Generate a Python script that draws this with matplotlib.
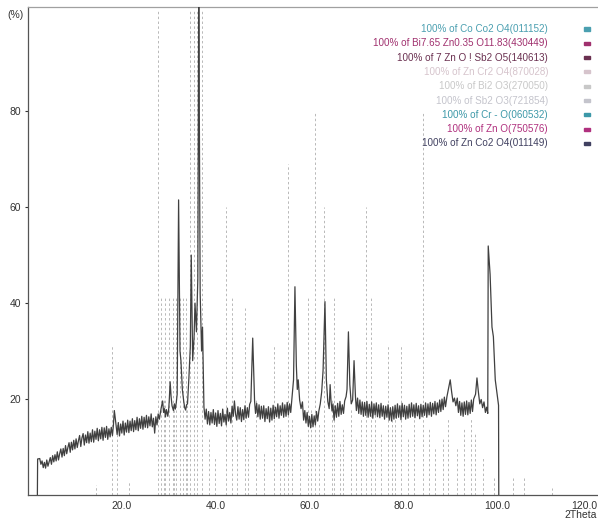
import numpy as np
import matplotlib
matplotlib.use("Agg")
import matplotlib.pyplot as plt
from matplotlib.transforms import ScaledTranslation

plt.rcParams['font.family'] = ['Liberation Sans', 'DejaVu Sans']

# 测得的衍射谱 (2Theta, %)，按区段记录
seg_low = [
    (2.0, 0.0), (2.05, 7.5), (2.5, 7.6), (2.75, 6.4), (3.0, 7.1), (3.25, 5.7), (3.5, 6.8),
    (3.75, 5.6), (4.0, 7.3), (4.25, 6.0), (4.5, 6.9), (4.75, 7.8), (5.0, 6.4), (5.25, 8.2),
    (5.5, 6.9), (5.75, 8.4), (6.0, 7.1), (6.25, 9.0), (6.5, 7.3), (6.75, 8.6), (7.0, 9.6),
    (7.25, 7.9), (7.5, 9.7), (7.75, 8.2), (8.0, 10.3), (8.25, 8.6), (8.5, 9.9), (8.75, 10.9),
    (9.0, 8.9), (9.25, 11.0), (9.5, 9.4), (9.75, 11.4), (10.0, 9.6), (10.25, 11.7),
    (10.5, 9.9), (10.75, 11.3), (11.0, 12.4), (11.25, 10.1), (11.5, 11.9), (11.75, 12.8),
    (12.0, 10.4), (12.25, 12.5), (12.5, 10.9), (12.75, 13.2), (13.0, 10.8), (13.25, 12.9),
    (13.5, 11.1), (13.75, 13.6), (14.0, 11.0), (14.25, 13.3), (14.5, 11.6), (14.75, 13.9),
    (15.0, 11.3), (15.25, 13.6), (15.5, 11.7), (15.75, 14.1), (16.0, 11.4), (16.25, 14.0),
    (16.5, 12.0), (16.75, 14.3), (17.0, 11.6), (17.25, 13.8), (17.5, 12.1), (17.75, 14.1),
    (18.0, 12.4), (18.2, 14.5), (18.4, 17.6), (18.6, 16.0), (18.8, 14.2), (19.0, 12.6),
    (19.25, 15.1), (19.5, 12.3), (19.75, 14.8), (20.0, 12.9), (20.25, 15.4), (20.5, 12.5),
    (20.75, 15.0), (21.0, 13.1), (21.25, 15.6), (21.5, 13.0), (21.75, 15.4), (22.0, 13.4),
    (22.25, 15.9), (22.5, 13.2), (22.75, 15.5), (23.0, 13.6), (23.25, 16.2), (23.5, 13.4),
    (23.75, 15.9), (24.0, 13.9), (24.25, 16.4), (24.5, 13.7), (24.75, 16.2), (25.0, 14.1),
    (25.25, 16.6), (25.5, 14.0), (25.75, 16.3), (26.0, 14.4), (26.25, 16.9), (26.5, 14.2),
    (26.75, 16.0), (27.0, 12.9), (27.25, 16.3), (27.5, 14.6), (27.75, 16.9),
]
seg_main = [
    (28.0, 15.8), (28.2, 17.0), (28.4, 18.2), (28.7, 19.6), (28.9, 17.2), (29.1, 18.0),
    (29.3, 16.3), (29.5, 17.8), (29.8, 16.4), (30.0, 18.0), (30.1, 19.5), (30.3, 23.6),
    (30.5, 20.5), (30.7, 18.6), (31.0, 17.6), (31.2, 19.0), (31.4, 17.9), (31.6, 19.2),
    (31.8, 21.0), (32.1, 61.5), (32.4, 30.0), (32.6, 28.0), (32.9, 22.0), (33.2, 19.5),
    (33.4, 18.2), (33.6, 17.7), (33.8, 18.8), (34.0, 19.0), (34.3, 24.5), (34.6, 31.0),
    (34.8, 50.0), (35.1, 28.0), (35.4, 33.0), (35.6, 40.0), (35.9, 34.0), (36.2, 45.0),
    (36.4, 104.0), (36.7, 42.0), (37.0, 30.0), (37.2, 35.0), (37.5, 18.4),
]
seg_mid = [
    (37.75, 15.8), (38.0, 17.9), (38.25, 14.8), (38.5, 17.4), (38.75, 14.6), (39.0, 17.2),
    (39.25, 15.0), (39.5, 17.8), (39.75, 14.7), (40.0, 17.1), (40.25, 14.3), (40.5, 17.6),
    (40.75, 14.9), (41.0, 17.0), (41.25, 14.4), (41.5, 17.9), (41.75, 15.2), (42.0, 16.8),
    (42.25, 14.6), (42.5, 18.1), (42.75, 15.4), (43.0, 17.2), (43.25, 15.0), (43.5, 18.5),
    (43.75, 16.4), (44.0, 19.6), (44.25, 16.8), (44.5, 15.6), (44.75, 18.4), (45.0, 15.8),
    (45.25, 18.2), (45.5, 15.3), (45.75, 17.8), (46.0, 15.7), (46.25, 18.6), (46.5, 16.0),
    (46.75, 18.2), (47.0, 16.2), (47.25, 18.9), (47.5, 19.5), (47.9, 32.7), (48.3, 19.5),
    (48.5, 17.0), (48.75, 19.1), (49.0, 16.3), (49.25, 18.8), (49.5, 15.8), (49.75, 18.5),
    (50.0, 16.0), (50.25, 18.6), (50.5, 15.3), (50.75, 18.0), (51.0, 15.9), (51.25, 18.4),
    (51.5, 15.2), (51.75, 18.1), (52.0, 15.6), (52.25, 18.7), (52.5, 15.9), (52.75, 18.3),
    (53.0, 16.3), (53.25, 19.0), (53.5, 16.0), (53.75, 18.6), (54.0, 16.6), (54.25, 19.2),
    (54.5, 16.2), (54.75, 18.8), (55.0, 16.4), (55.25, 19.3), (55.5, 16.7), (55.75, 19.0),
    (56.0, 17.2), (56.2, 19.5), (56.6, 24.0), (56.9, 43.4), (57.2, 27.0), (57.4, 22.0),
    (57.6, 24.0), (57.9, 19.8), (58.2, 18.0), (58.5, 19.4), (58.75, 15.6), (59.0, 17.6),
    (59.25, 15.0), (59.5, 17.2), (59.75, 14.3), (60.0, 16.4), (60.25, 14.0), (60.5, 16.8),
    (60.75, 14.2), (61.0, 16.5), (61.25, 14.6), (61.5, 17.4), (61.75, 15.4), (62.0, 17.5),
    (62.3, 19.0), (62.6, 21.5), (62.9, 26.0), (63.3, 40.3), (63.6, 24.0), (63.9, 19.5),
    (64.2, 18.0), (64.4, 23.0), (64.6, 19.5), (64.8, 17.5), (65.0, 19.0), (65.25, 15.6),
    (65.5, 18.6), (65.75, 16.2), (66.0, 19.1), (66.25, 16.4), (66.5, 19.5), (66.75, 16.8),
    (67.0, 18.8), (67.25, 17.0), (67.5, 19.6), (67.8, 20.5), (68.0, 22.0), (68.3, 34.0),
    (68.6, 23.0), (68.9, 19.0), (69.2, 19.8), (69.5, 28.0), (69.8, 20.5),
]
seg_high = [
    (70.0, 17.6), (70.25, 20.2), (70.5, 17.0), (70.75, 19.8), (71.0, 16.8), (71.25, 19.4),
    (71.5, 16.4), (71.75, 19.3), (72.0, 16.6), (72.25, 19.5), (72.5, 16.2), (72.75, 18.9),
    (73.0, 16.4), (73.25, 19.4), (73.5, 16.0), (73.75, 19.0), (74.0, 16.7), (74.25, 19.2),
    (74.5, 16.3), (74.75, 18.8), (75.0, 16.1), (75.25, 19.1), (75.5, 16.4), (75.75, 18.6),
    (76.0, 15.8), (76.25, 18.5), (76.5, 16.2), (76.75, 18.8), (77.0, 15.6), (77.25, 18.2),
    (77.5, 15.4), (77.75, 18.4), (78.0, 15.8), (78.25, 18.7), (78.5, 16.0), (78.75, 19.0),
    (79.0, 16.2), (79.25, 18.6), (79.5, 15.7), (79.75, 19.1), (80.0, 16.3), (80.25, 18.7),
    (80.5, 15.8), (80.75, 18.5), (81.0, 16.0), (81.25, 18.9), (81.5, 16.2), (81.75, 19.2),
    (82.0, 16.4), (82.25, 18.8), (82.5, 16.1), (82.75, 19.1), (83.0, 16.5), (83.25, 18.6),
    (83.5, 15.9), (83.75, 18.9), (84.0, 16.3), (84.25, 18.7), (84.5, 16.6), (84.75, 19.2),
    (85.0, 16.2), (85.25, 19.0), (85.5, 16.7), (85.75, 19.3), (86.0, 16.4), (86.25, 19.1),
    (86.5, 16.9), (86.75, 19.5), (87.0, 16.7), (87.25, 19.2), (87.5, 17.2), (87.75, 19.8),
    (88.0, 17.4), (88.25, 20.0), (88.5, 17.8), (88.75, 20.4), (89.0, 18.4), (89.3, 20.5),
    (89.6, 22.0), (90.0, 24.0), (90.3, 21.5), (90.6, 19.4), (90.9, 20.2), (91.2, 18.6),
    (91.5, 20.2), (91.75, 17.2), (92.0, 19.5), (92.25, 16.6), (92.5, 19.2), (92.75, 16.4),
    (93.0, 19.4), (93.25, 16.8), (93.5, 19.6), (93.75, 16.7), (94.0, 19.3), (94.25, 17.0),
    (94.5, 19.8), (94.75, 17.4), (95.0, 20.0), (95.4, 21.0), (95.7, 24.4), (96.0, 21.5),
    (96.3, 19.0), (96.6, 19.9), (96.9, 18.2), (97.2, 19.4), (97.5, 17.2), (97.75, 18.3),
    (98.0, 17.0), (98.1, 51.9), (98.5, 46.0), (98.9, 35.0), (99.2, 33.0), (99.6, 24.0),
    (100.0, 21.0), (100.3, 18.7), (100.35, 0.0),
]

# 标准卡片的峰位和相对强度
stick_pos = [
    27.8, 34.5, 35.3, 36.0, 37.0,
    61.2, 84.2, 55.5, 42.2, 63.1, 72.1,
    28.3, 29.2, 30.0, 30.9, 31.6, 32.3, 33.0, 33.6, 43.4, 59.6, 65.3, 73.1,
    46.3, 18.0, 52.5, 76.8, 79.5,
    19.0, 28.9, 31.2, 33.9, 38.5, 39.8, 44.5, 47.0, 48.5, 50.2, 53.8, 54.5, 56.3, 58.0,
    60.3, 62.0, 64.8, 66.5, 67.2, 68.8, 70.0, 71.0, 74.0, 75.2, 77.6, 78.3, 81.0, 82.3,
    85.5, 86.8, 88.5, 89.6, 91.5, 93.0, 94.5, 95.2, 97.0,
    99.4, 103.4, 105.8, 111.7, 14.5, 21.5,
]
stick_height = [
    101, 101, 101, 101, 101,
    80, 80, 69, 60, 60, 60,
    41, 41, 41, 41, 41, 41, 41, 41, 41, 41, 41, 41,
    39, 31, 31, 31, 31,
    15, 20, 18, 20, 12, 8, 12, 10, 20, 9, 14, 11, 16, 12,
    18, 15, 20, 11, 14, 18, 12, 16, 19, 13, 16, 18, 12, 17,
    14, 10, 12, 16, 10, 14, 16, 13, 8,
    4, 4, 4, 1.5, 2, 3,
]

legend_labels = [
    "100% of Co Co2 O4(011152)",
    "100% of Bi7.65 Zn0.35 O11.83(430449)",
    "100% of 7 Zn O ! Sb2 O5(140613)",
    "100% of Zn Cr2 O4(870028)",
    "100% of Bi2 O3(270050)",
    "100% of Sb2 O3(721854)",
    "100% of Cr - O(060532)",
    "100% of Zn O(750576)",
    "100% of Zn Co2 O4(011149)",
]
legend_colors = ['#4a9fb0', '#a0306e', '#6a3050', '#d6c4cc', '#c8c8c8',
                 '#c4c4cc', '#3c98a8', '#b0307e', '#404060']


def plot_pattern():
    W, H = 598, 521
    fig = plt.figure(figsize=(W / 100, H / 100), dpi=100)
    ax = fig.add_axes([28 / W, 26 / H, 570 / W, 488 / H])

    # 参考峰线
    ax.vlines(stick_pos, 0, stick_height, colors='#b8b8b8',
              linestyles=(0, (2.5, 2.5)), linewidth=0.7, zorder=1)

    pts = seg_low + seg_main + seg_mid + seg_high
    tt = [p[0] for p in pts]
    yy = [p[1] for p in pts]
    ax.plot(tt, yy, color='#404040', linewidth=0.9, zorder=3)

    ax.set_xlim(0, 121.5)
    ax.set_ylim(0, 101.7)
    ax.set_xticks([20, 40, 60, 80, 100, 120])
    ax.set_xticklabels(["20.0", "40.0", "60.0", "80.0", "100.0", "120.0"])
    ax.set_yticks([20, 40, 60, 80])
    ax.tick_params(axis='x', length=0, pad=4, labelsize=7.5, colors='#333333')
    ax.tick_params(axis='y', length=2, pad=3, labelsize=7.5, colors='#333333')
    last = ax.get_xticklabels()[-1]
    last.set_ha('right')
    last.set_transform(last.get_transform() + ScaledTranslation(6 / 100, 0, fig.dpi_scale_trans))
    ax.spines['right'].set_visible(False)
    ax.spines['top'].set_color('#a0a0a0')
    ax.spines['left'].set_color('#555555')
    ax.spines['bottom'].set_color('#555555')
    for s in ax.spines.values():
        s.set_linewidth(0.9)

    fig.text(15 / W, 1 - 15 / H, "(%)", fontsize=7.5, ha='center', va='center', color='#333333')
    fig.text(597 / W, 1 - 515 / H, "2Theta", fontsize=7.5, ha='right', va='center', color='#333333')

    # 图例
    for i, (lab, c) in enumerate(zip(legend_labels, legend_colors)):
        y0 = 29 + i * 14.3
        fig.text(548 / W, 1 - y0 / H, lab, fontsize=7.1, ha='right', va='center', color=c)
        fig.patches.append(plt.Rectangle((584 / W, 1 - (y0 + 1.5) / H), 6 / W, 3 / H,
                                         transform=fig.transFigure, color=c, figure=fig))

    fig.savefig("out.png", dpi=100)


if __name__ == "__main__":
    plot_pattern()
